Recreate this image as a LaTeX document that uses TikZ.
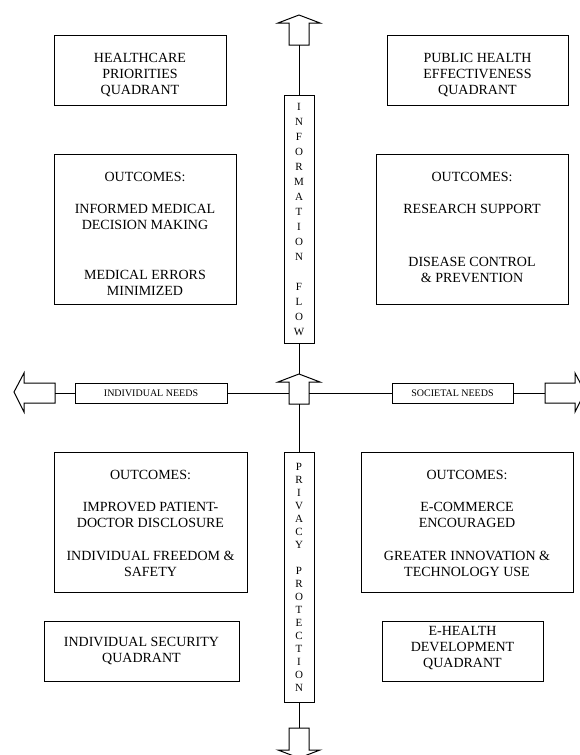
\documentclass[tikz,border=0pt]{standalone}
\usepackage{fontspec}
\setmainfont{Liberation Serif}
\begin{document}
\begin{tikzpicture}[x=1pt,y=-1pt,line width=1pt,line join=miter,
  box/.style={draw,rectangle,inner sep=0pt},
  txt/.style={inner sep=0pt,anchor=base,font=\fontsize{14}{16}\selectfont},
  small/.style={inner sep=0pt,font=\fontsize{10}{12}\selectfont},
  vtxt/.style={inner sep=0pt,align=center,font=\fontsize{11}{15}\selectfont},
  ptxt/.style={inner sep=0pt,align=center,font=\fontsize{11}{13}\selectfont},
  arrowshape/.style={draw,fill=white}]
\useasboundingbox (0,0) rectangle (579,755);

% ---- boxes ----
\node[box,minimum width=172,minimum height=70] (hcq) at (140,70) {};
\node[box,minimum width=182,minimum height=150] (hco) at (145,229) {};
\node[box,minimum width=181,minimum height=70] (phq) at (477.5,70) {};
\node[box,minimum width=192,minimum height=150] (pho) at (472,229) {};
\node[box,minimum width=193,minimum height=140] (iso) at (150.5,522) {};
\node[box,minimum width=195,minimum height=60] (isq) at (141.5,651) {};
\node[box,minimum width=212,minimum height=140] (eho) at (467,522) {};
\node[box,minimum width=161,minimum height=60] (ehq) at (462.5,651) {};

\node[box,minimum width=30,minimum height=248] (info) at (299,219) {};
\node[box,minimum width=30,minimum height=250] (priv) at (299,577) {};
\node[box,minimum width=152,minimum height=20] (indiv) at (151,393) {};
\node[box,minimum width=121,minimum height=20] (soc) at (452.5,393) {};

% ---- texts ----
\node[txt] (t1) at (140,62) {HEALTHCARE};
\node[txt] (t2) at (140,78) {PRIORITIES};
\node[txt] (t3) at (140,94) {QUADRANT};

\node[txt] (t4) at (145,181.5) {OUTCOMES:};
\node[txt] (t5) at (145,213.5) {INFORMED MEDICAL};
\node[txt] (t6) at (145,229.5) {DECISION MAKING};
\node[txt] (t7) at (145,279.5) {MEDICAL ERRORS};
\node[txt] (t8) at (145,295.5) {MINIMIZED};

\node[txt] (t9) at (477.5,62) {PUBLIC HEALTH};
\node[txt] (t10) at (477.5,78) {EFFECTIVENESS};
\node[txt] (t11) at (477.5,94) {QUADRANT};

\node[txt] (t12) at (472,181.5) {OUTCOMES:};
\node[txt] (t13) at (472,213.5) {RESEARCH SUPPORT};
\node[txt] (t14) at (472,266.5) {DISEASE CONTROL};
\node[txt] (t15) at (472,282.5) {\& PREVENTION};

\node[txt] (t16) at (150.5,479.5) {OUTCOMES:};
\node[txt] (t17) at (150.5,511.5) {IMPROVED PATIENT-};
\node[txt] (t18) at (150.5,527.5) {DOCTOR DISCLOSURE};
\node[txt] (t19) at (150.5,560.5) {INDIVIDUAL FREEDOM \&};
\node[txt] (t20) at (150.5,576.5) {SAFETY};

\node[txt] (t21) at (141.5,646.5) {INDIVIDUAL SECURITY};
\node[txt] (t22) at (141.5,662.5) {QUADRANT};

\node[txt] (t23) at (467,479.5) {OUTCOMES:};
\node[txt] (t24) at (467,511.5) {E-COMMERCE};
\node[txt] (t25) at (467,527.5) {ENCOURAGED};
\node[txt] (t26) at (467,560.5) {GREATER INNOVATION \&};
\node[txt] (t27) at (467,576.5) {TECHNOLOGY USE};

\node[txt] (t28) at (462.5,635) {E-HEALTH};
\node[txt] (t29) at (462.5,651) {DEVELOPMENT};
\node[txt] (t30) at (462.5,667) {QUADRANT};

\node[small] (t31) at (indiv.center) {INDIVIDUAL NEEDS};
\node[small] (t32) at (soc.center) {SOCIETAL NEEDS};

\node[vtxt] (t33) at (info.center) {I\\N\\F\\O\\R\\M\\A\\T\\I\\O\\N\\[15pt]F\\L\\O\\W};
\node[ptxt] (t34) at (priv.center) {P\\R\\I\\V\\A\\C\\Y\\[13pt]P\\R\\O\\T\\E\\C\\T\\I\\O\\N};

% ---- block arrows ----
\draw[arrowshape] (299,15) -- (320,23) -- (309,23) -- (309,45) -- (289,45) -- (289,23) -- (278,23) -- cycle;
\coordinate (upbase) at (299,45);
\draw[arrowshape] (299,374) -- (320,382) -- (309,382) -- (309,404) -- (289,404) -- (289,382) -- (278,382) -- cycle;
\coordinate (ctip) at (299,374);
\coordinate (cbase) at (299,404);
\coordinate (cleft) at (289,393);
\coordinate (cright) at (309,393);
\draw[arrowshape] (299,758) -- (278,750) -- (289,750) -- (289,728) -- (309,728) -- (309,750) -- (320,750) -- cycle;
\coordinate (downbase) at (299,728);
\draw[arrowshape] (14,392) -- (24,373) -- (24,383) -- (55,383) -- (55,403) -- (24,403) -- (24,412) -- cycle;
\coordinate (leftbase) at (55,393);
\draw[arrowshape] (585,392) -- (575,373) -- (575,383) -- (545,383) -- (545,403) -- (575,403) -- (575,412) -- cycle;
\coordinate (rightbase) at (545,393);

% ---- connectors ----
\draw (upbase) -- (info.north);
\draw (info.south) -- (ctip);
\draw (cbase) -- (priv.north);
\draw (priv.south) -- (downbase);
\draw (leftbase) -- (indiv.west);
\draw (indiv.east) -- (cleft);
\draw (cright) -- (soc.west);
\draw (soc.east) -- (rightbase);
\end{tikzpicture}
\end{document}
